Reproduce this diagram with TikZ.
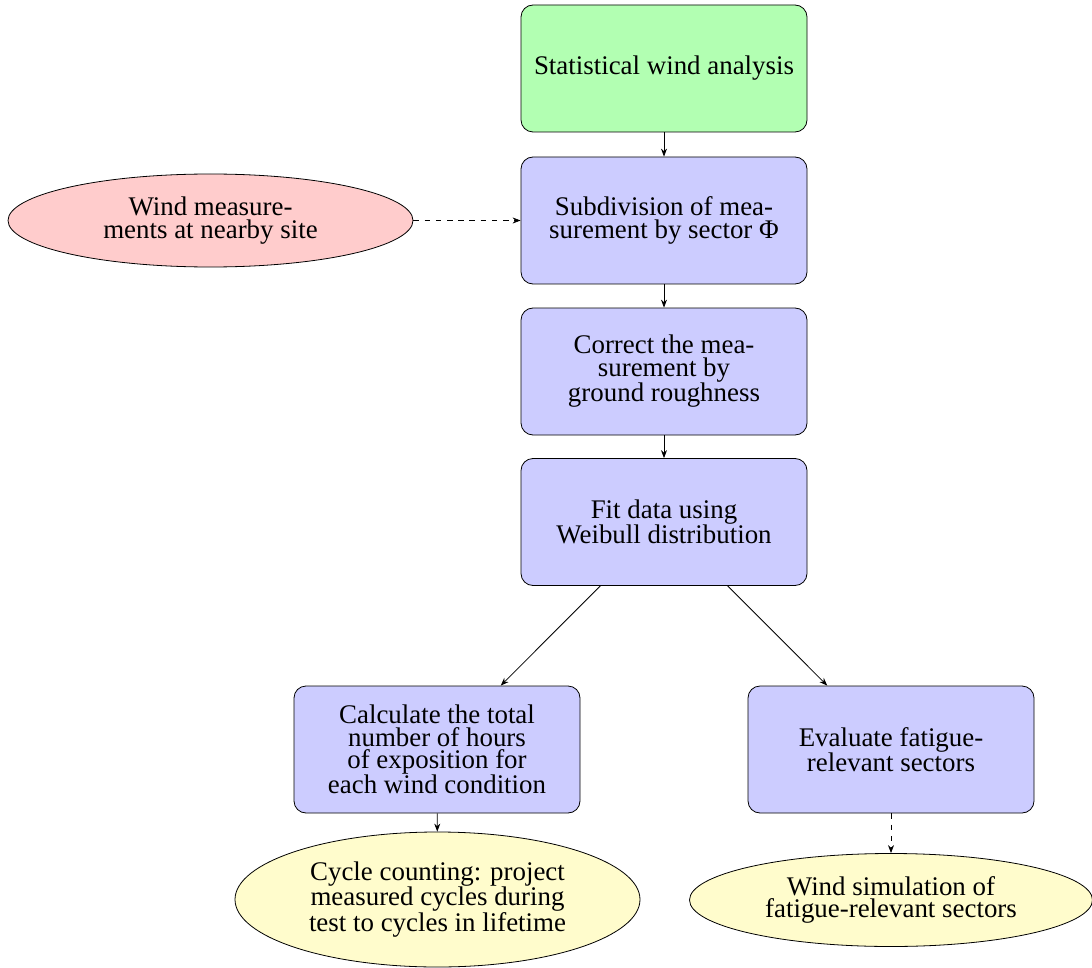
\documentclass[tikz,border=0pt]{standalone}
\usepackage{fontspec}
\setmainfont{Liberation Serif}
\usetikzlibrary{shapes.geometric,arrows.meta}

\tikzset{
  base/.style={draw=black, line width=0.8pt, inner sep=0pt, align=center,
    font=\fontsize{26.9}{22.5}\selectfont},
  procbox/.style={base, rectangle, rounded corners=12pt,
    minimum width=286pt, minimum height=127pt},
  startbox/.style={procbox, fill=green!30},
  stepbox/.style={procbox, fill=blue!20},
  inputell/.style={base, ellipse, fill=red!20},
  outell/.style={base, ellipse, fill=yellow!20},
  link/.style={line width=0.8pt, -{Stealth[length=8pt,width=6pt]}},
  dlink/.style={link, dash pattern=on 5.6pt off 5.6pt},
}

\begin{document}
\begin{tikzpicture}[x=1pt,y=-1pt]
  \useasboundingbox (0,0) rectangle (1092,968);

  % main column
  \node[startbox] (stat) at (664,68.5) {Statistical wind analysis};
  \node[stepbox] (sub) at (664,220.5) {Subdivision of mea-\\surement by sector Φ};
  \node[stepbox] (corr) at (664,371.5) {Correct the mea-\\surement by\\ground roughness};
  \node[stepbox] (fit) at (664,522) {Fit data using\\Weibull distribution};

  % branches
  \node[stepbox] (calc) at (437,749.5) {Calculate the total\\number of hours\\of exposition for\\each wind condition};
  \node[stepbox] (eval) at (891,749.5) {Evaluate fatigue-\\relevant sectors};

  % input and results
  \node[inputell, minimum width=405pt, minimum height=93pt] (meas) at (210.5,220.5)
    {Wind measure-\\ments at nearby site};
  \node[outell, minimum width=405pt, minimum height=135pt] (cyc) at (437.5,899.5)
    {Cycle counting: project\\measured cycles during\\test to cycles in lifetime};
  \node[outell, minimum width=403pt, minimum height=93pt] (sim) at (891,900)
    {Wind simulation of\\fatigue-relevant sectors};

  % connectors
  \draw[link] (stat) -- (sub);
  \draw[dlink] (meas) -- (sub);
  \draw[link] (sub) -- (corr);
  \draw[link] (corr) -- (fit);
  \draw[link] (fit) -- (calc);
  \draw[link] (fit) -- (eval);
  \draw[link] (calc) -- (cyc);
  \draw[dlink] (eval) -- (sim);
\end{tikzpicture}
\end{document}
